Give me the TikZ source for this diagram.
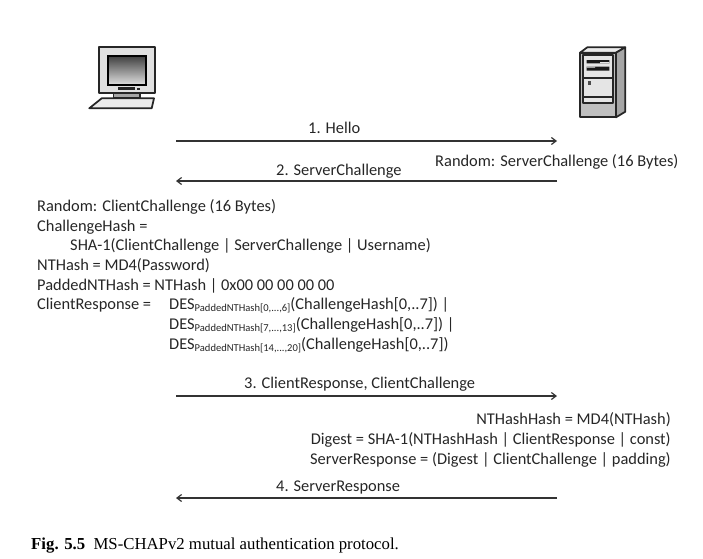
\documentclass[tikz,border=0pt]{standalone}
\usepackage{fontspec}
\setmainfont{Carlito}
\newfontfamily\capfont{Liberation Serif}
\usetikzlibrary{arrows.meta}

\newcommand{\dessub}[1]{\raisebox{-2.5pt}{\fontsize{9}{10}\selectfont #1}}

\tikzset{
	txt/.style={inner sep=0pt,anchor=base west,font=\fontsize{14}{16}\selectfont,text=black!85},
	rtxt/.style={txt,anchor=base east},
	msg/.style={line width=1pt,black!80,-{Straight Barb[length=4pt,width=6pt]}},
	heavy/.style={line width=1.5pt,black!85,line join=round}
}

\begin{document}
\begin{tikzpicture}[x=0.03cm,y=-0.03cm]

	\useasboundingbox (0,0) rectangle (703,558);

	% client
	\draw [heavy,fill=black!12] (99.3,47.3) rectangle (155,93.3);
	\shade [top color=black!75,bottom color=black!12,draw=black,line width=1.5pt] (108.3,56) rectangle (146,85);
	\fill [black!85] (118,87) rectangle (135,90);
	\fill [black!85] (137,88.3) rectangle (139.5,90.3);
	\draw [heavy,fill=black!35] (113.5,93.3) rectangle (140,98.3);
	\draw [heavy,fill=black!8] (89.3,108.3) -- (101.7,98.3) -- (154,98.3) -- (151.7,108.3) -- cycle;

	% server
	\draw [heavy,fill=black!8] (580,52.7) -- (587.3,47.3) -- (625.3,47.3) -- (616,52.7) -- cycle;
	\draw [heavy,fill=black!35] (616,52.7) -- (625.3,47.3) -- (625.3,111.7) -- (616,117.3) -- cycle;
	\draw [heavy,fill=black!25] (580,52.7) rectangle (616,117.3);
	\draw [heavy,fill=black!10] (583.3,55) rectangle (613.3,103);
	\draw [heavy] (583.3,78.3) -- (613.3,78.3) (583.3,96.7) -- (613.3,96.7);
	\fill [black!90] (586.7,60) rectangle (609.3,63.3) (586.7,66.7) rectangle (609.3,70.7);
	\fill [black!10] (600,62) rectangle (609.3,63.3) (586.7,66.7) rectangle (595,67.5);
	\fill [black!70] (587.5,80.5) rectangle (590.5,84.5);

	\coordinate (cl1) at (176,141);
	\coordinate (sv1) at (557,141);
	\coordinate (cl2) at (176,181);
	\coordinate (sv2) at (557,181);
	\coordinate (cl3) at (176,396);
	\coordinate (sv3) at (557,396);
	\coordinate (cl4) at (176,498);
	\coordinate (sv4) at (557,498);

	\draw [msg] (cl1) -- (sv1);
	\draw [msg] (sv2) -- (cl2);
	\draw [msg] (cl3) -- (sv3);
	\draw [msg] (sv4) -- (cl4);

	\node [txt] (hello) at (308,133) {1. Hello};
	\node [txt] (srvrand) at (435,166) {Random: ServerChallenge (16 Bytes)};
	\node [txt] (srvchal) at (276,175) {2. ServerChallenge};

	\node [txt] (clirand) at (37,211) {Random: ClientChallenge (16 Bytes)};
	\node [txt] (chash) at (37,231) {ChallengeHash =};
	\node [txt] (sha) at (70,250) {SHA-1(ClientChallenge | ServerChallenge | Username)};
	\node [txt] (nthash) at (37,270) {NTHash = MD4(Password)};
	\node [txt] (padded) at (37,290) {PaddedNTHash = NTHash | 0x00 00 00 00 00};
	\node [txt] (clresp) at (37,309) {ClientResponse =};
	\node [txt] (desa) at (169,309) {DES\dessub{PaddedNTHash[0,...,6]}(ChallengeHash[0,..7]) |};
	\node [txt] (desb) at (169,329) {DES\dessub{PaddedNTHash[7,...,13]}(ChallengeHash[0,..7]) |};
	\node [txt] (desc) at (169,349) {DES\dessub{PaddedNTHash[14,...,20]}(ChallengeHash[0,..7])};

	\node [txt] (clmsg) at (244,388) {3. ClientResponse, ClientChallenge};

	\node [rtxt] (nthh) at (671,424) {NTHashHash = MD4(NTHash)};
	\node [rtxt] (digest) at (671,444) {Digest = SHA-1(NTHashHash | ClientResponse | const)};
	\node [rtxt] (svresp) at (671,464) {ServerResponse = (Digest | ClientChallenge | padding)};

	\node [txt] (svmsg) at (276,491) {4. ServerResponse};

	\node [txt,font=\capfont\fontsize{14.3}{16}\selectfont,text=black] (caption) at (31,549) {\textbf{Fig. 5.5}\hspace{0.5em}MS-CHAPv2 mutual authentication protocol.};

\end{tikzpicture}
\end{document}
